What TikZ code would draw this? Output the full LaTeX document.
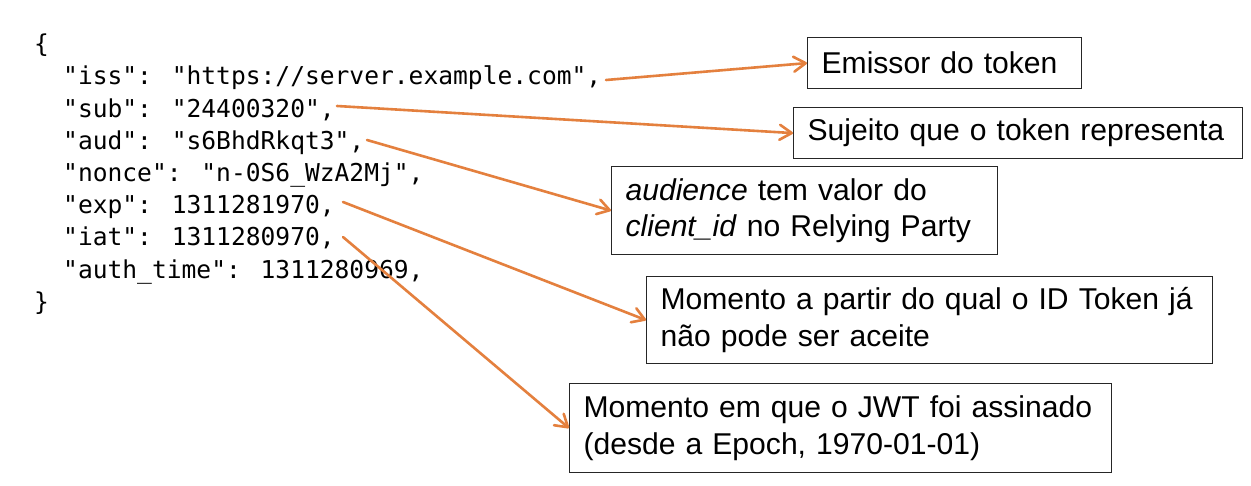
\documentclass[tikz,border=0pt]{standalone}
\usepackage{fontspec}
\usetikzlibrary{arrows.meta}
\newfontfamily\codefont{DejaVu Sans Mono}
\newfontfamily\labelfont{Liberation Sans}
\definecolor{arrowc}{RGB}{228,128,62}
\tikzset{
  codeline/.style={anchor=base west, inner sep=0pt, font=\codefont\fontsize{24.6}{32}\selectfont},
  labelbox/.style={draw=black!85, line width=1.2pt, anchor=north west, inner xsep=14pt, inner ysep=0pt,
    align=left, font=\labelfont\fontsize{30.1}{36.5}\selectfont},
  pointer/.style={draw=arrowc, line width=2.6pt, line cap=round,
    -{Straight Barb[length=12pt,width=15pt,round]}},
}
\begin{document}
\begin{tikzpicture}[x=1pt,y=-1pt]
\useasboundingbox[fill=white] (0,0) rectangle (1251,486);
% code
\node[codeline] (open)  at (34,52.8) {\{};
\node[codeline] (iss)   at (63,85)   {"iss": "https://server.example.com",};
\node[codeline] (sub)   at (63,117.2) {"sub": "24400320",};
\node[codeline] (aud)   at (63,149.4) {"aud": "s6BhdRkqt3",};
\node[codeline] (nonce) at (63,181.6) {"nonce": "n-0S6\_WzA2Mj",};
\node[codeline] (exp)   at (63,213.8) {"exp": 1311281970,};
\node[codeline] (iat)   at (63,246)   {"iat": 1311280970,};
\node[codeline] (auth)  at (63,278.2) {"auth\_time": 1311280969,};
\node[codeline] (close) at (34,310.4) {\}};
% boxes
\node[labelbox, text width=246pt, minimum height=51pt] (b1) at (807,37) {\mbox{Emissor do token}};
\node[labelbox, text width=421pt, minimum height=51pt] (b2) at (793,107) {\mbox{Sujeito que o token representa}};
\node[labelbox, text width=358pt, minimum height=88pt] (b3) at (611,166)
  {\mbox{\textit{audience} tem valor do}\\\mbox{\textit{client\_id} no Relying Party}};
\node[labelbox, text width=538pt, minimum height=87pt] (b4) at (646,276)
  {\mbox{Momento a partir do qual o ID Token já}\\\mbox{não pode ser aceite}};
\node[labelbox, text width=514pt, minimum height=89pt] (b5) at (569,383)
  {\mbox{Momento em que o JWT foi assinado}\\\mbox{(desde a Epoch, 1970-01-01)}};
% arrow starts
\coordinate (s1) at (606,80);
\coordinate (s2) at (337,106);
\coordinate (s3) at (367,140);
\coordinate (s4) at (343,202);
\coordinate (s5) at (343,237);
\draw[pointer] (s1) -- (b1.west);
\draw[pointer] (s2) -- (b2.west);
\draw[pointer] (s3) -- (b3.west);
\draw[pointer] (s4) -- (b4.west);
\draw[pointer] (s5) -- (b5.west);
\end{tikzpicture}
\end{document}
